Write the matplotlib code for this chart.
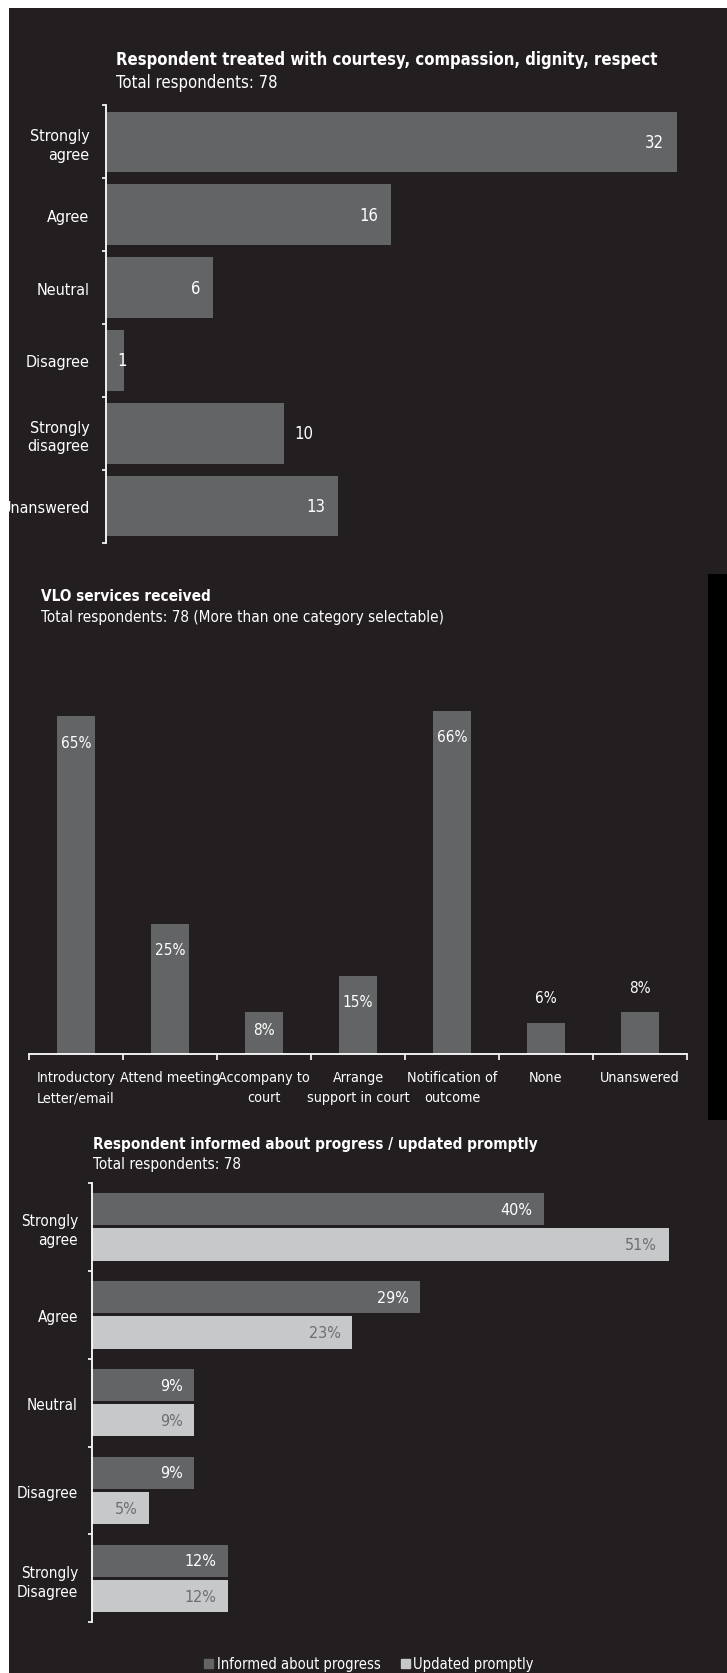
import numpy as np
import matplotlib
matplotlib.use("Agg")
import matplotlib.pyplot as plt
from matplotlib.patches import Rectangle, Patch

plt.rcParams['font.family'] = ['DejaVu Sans']
plt.rcParams['font.stretch'] = 'condensed'

BG = '#231f20'
DARK = '#636466'
LIGHT = '#c7c8ca'
LABEL_GREY = '#6d6e71'

# chart 1: courtesy / respect
courtesy_cats = ['Strongly\nagree', 'Agree', 'Neutral', 'Disagree', 'Strongly\ndisagree', 'Unanswered']
courtesy_vals = [32, 16, 6, 1, 10, 13]
courtesy_label_pos = ['in', 'in', 'in', 'mid', 'out', 'in']

# chart 2: services received (percent of respondents)
service_cats = ['Introductory\nLetter/email', 'Attend meeting', 'Accompany to\ncourt',
                'Arrange\nsupport in court', 'Notification of\noutcome', 'None', 'Unanswered']
service_vals = [65, 25, 8, 15, 66, 6, 8]
service_label_pos = ['in', 'in', 'in', 'in', 'in', 'out', 'out']

# chart 3: informed / updated
progress_cats = ['Strongly\nagree', 'Agree', 'Neutral', 'Disagree', 'Strongly\nDisagree']
informed_vals = [40, 29, 9, 9, 12]
updated_vals = [51, 23, 9, 5, 12]
series_names = ['Informed about progress', 'Updated promptly']

W, H = 727, 1674
DPI = 100


def box(x0, y0, x1, y1):
    return [x0 / W, 1 - y1 / H, (x1 - x0) / W, (y1 - y0) / H]


def fx(x):
    return x / W


def fy(y):
    return 1 - y / H


def px2pt(p):
    return p * 72 / DPI


fig = plt.figure(figsize=(W / DPI, H / DPI), dpi=DPI, facecolor='white')
fig.patches.append(Rectangle((fx(9), 0), 1 - fx(9), fy(9), transform=fig.transFigure,
                             facecolor=BG, edgecolor='none', zorder=-5))
fig.patches.append(Rectangle((fx(708), fy(1121)), 1 - fx(708), fy(575) - fy(1121),
                             transform=fig.transFigure, facecolor='black', edgecolor='none', zorder=-4))


def style_axes(ax, spine):
    ax.set_facecolor('none')
    ax.set_zorder(2)
    for s in ax.spines.values():
        s.set_visible(False)
    ax.spines[spine].set_visible(True)
    ax.spines[spine].set_color('white')
    ax.spines[spine].set_linewidth(1.3)


# ---- chart 1 ----
ax1 = fig.add_axes(box(106, 106.4, 106 + 17.84 * 34, 543.6))
style_axes(ax1, 'left')
y1 = np.arange(len(courtesy_cats))
ax1.barh(y1, courtesy_vals, height=0.83, color=DARK)
ax1.set_xlim(0, 34)
ax1.set_ylim(len(courtesy_cats) - 0.5, -0.5)
ax1.set_xticks([])
ax1.set_yticks(y1)
ax1.set_yticklabels(courtesy_cats, color='white', fontsize=11.5, linespacing=1.3)
ax1.set_yticks(np.arange(-0.5, len(courtesy_cats)), minor=True)
ax1.tick_params(axis='y', which='major', length=0, pad=px2pt(16.5))
ax1.tick_params(axis='y', which='minor', length=3, width=1.2, color='white')
for yi, v, pos in zip(y1, courtesy_vals, courtesy_label_pos):
    if pos == 'in':
        off, ha = -13, 'right'
    elif pos == 'out':
        off, ha = 10, 'left'
    else:
        off, ha = -2, 'center'
    ax1.annotate(str(v), (v, yi), xytext=(px2pt(off), 0), textcoords='offset points',
                 ha=ha, va='center', color='white', fontsize=12)

fig.text(fx(116), fy(65), 'Respondent treated with courtesy, compassion, dignity, respect',
         color='white', fontsize=12, fontweight='bold', va='baseline')
fig.text(fx(116), fy(88), 'Total respondents: 78', color='white', fontsize=12, va='baseline')

# ---- chart 2 ----
ax2 = fig.add_axes(box(29, 1055 - 5.2 * 76, 687, 1055))
style_axes(ax2, 'bottom')
x2 = np.arange(len(service_cats))
ax2.bar(x2, service_vals, width=0.4, color=DARK)
ax2.set_xlim(-0.5, len(service_cats) - 0.5)
ax2.set_ylim(0, 76)
ax2.set_yticks([])
ax2.set_xticks(x2)
ax2.set_xticklabels(service_cats, color='white', fontsize=10.3, linespacing=1.55)
ax2.set_xticks(np.arange(-0.5, len(service_cats)), minor=True)
ax2.tick_params(axis='x', which='major', length=0, pad=px2pt(16))
ax2.tick_params(axis='x', which='minor', length=4.5, width=1.2, color='white')
for xi, v, pos in zip(x2, service_vals, service_label_pos):
    bar_px = v * 5.2
    if pos == 'in':
        off = -min(26, bar_px * 0.4)
    else:
        off = 25
    ax2.annotate(f'{v}%', (xi, v), xytext=(0, px2pt(off)), textcoords='offset points',
                 ha='center', va='center', color='white', fontsize=11)

fig.text(fx(41), fy(601), 'VLO services received', color='white', fontsize=11,
         fontweight='bold', va='baseline')
fig.text(fx(41), fy(622), 'Total respondents: 78 (More than one category selectable)',
         color='white', fontsize=11, va='baseline')

# ---- chart 3 ----
ax3 = fig.add_axes(box(92.3, 1183.8, 92.3 + 11.3 * 55, 1623.4))
style_axes(ax3, 'left')
y3 = np.arange(len(progress_cats))
ax3.barh(y3 - 0.2, informed_vals, height=0.37, color=DARK, label=series_names[0])
ax3.barh(y3 + 0.2, updated_vals, height=0.37, color=LIGHT, label=series_names[1])
ax3.set_xlim(0, 55)
ax3.set_ylim(len(progress_cats) - 0.5, -0.5)
ax3.set_xticks([])
ax3.set_yticks(y3)
ax3.set_yticklabels(progress_cats, color='white', fontsize=11, linespacing=1.35)
ax3.set_yticks(np.arange(-0.5, len(progress_cats)), minor=True)
ax3.tick_params(axis='y', which='major', length=0, pad=px2pt(14.3))
ax3.tick_params(axis='y', which='minor', length=3, width=1.2, color='white')
for yi, a, b in zip(y3, informed_vals, updated_vals):
    ax3.annotate(f'{a}%', (a, yi - 0.2), xytext=(px2pt(-11.6), 0), textcoords='offset points',
                 ha='right', va='center', color='white', fontsize=11.5)
    ax3.annotate(f'{b}%', (b, yi + 0.2), xytext=(px2pt(-11.6), 0), textcoords='offset points',
                 ha='right', va='center', color=LABEL_GREY, fontsize=11.5)

fig.text(fx(93.3), fy(1149), 'Respondent informed about progress / updated promptly',
         color='white', fontsize=11, fontweight='bold', va='baseline')
fig.text(fx(93.3), fy(1169), 'Total respondents: 78', color='white', fontsize=11, va='baseline')

fig.legend(handles=[Patch(color=DARK), Patch(color=LIGHT)], labels=series_names,
           loc='center', bbox_to_anchor=(fx(369), fy(1665)), ncol=2, frameon=False,
           handlelength=0.6, handleheight=0.6, handletextpad=0.25, columnspacing=1.4,
           fontsize=10.5, labelcolor='white', borderpad=0)

fig.savefig('out.png', dpi=DPI, facecolor='white')
